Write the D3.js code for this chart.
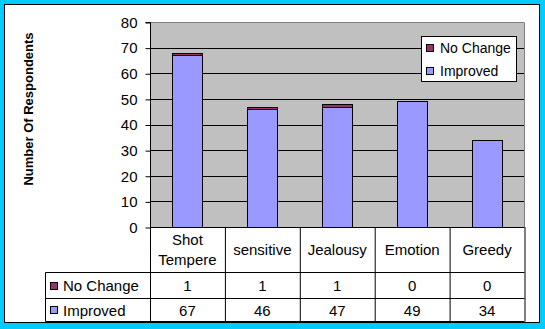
<!DOCTYPE html>
<html>
<head>
<meta charset="utf-8">
<script src="https://cdn.jsdelivr.net/npm/d3@7"></script>
<style>
  html, body { margin: 0; padding: 0; background: #00CCFF; }
  svg { display: block; font-family: Arial, "Liberation Sans", sans-serif; }
</style>
</head>
<body>
<svg id="chart" width="545" height="329"></svg>
<script>
// Survey results: respondents per trait
const categories = [["Shot", "Tempere"], ["sensitive"], ["Jealousy"], ["Emotion"], ["Greedy"]];
const seriesNames = ["No Change", "Improved"];
const noChange = [1, 1, 1, 0, 0];
const improved = [67, 46, 47, 49, 34];
const yTicks = [0, 10, 20, 30, 40, 50, 60, 70, 80];

const colors = { "Improved": "#9999FF", "No Change": "#993366" };

const svg = d3.select("#chart");

// frame
svg.append("rect").attr("x", 0).attr("y", 0).attr("width", 545).attr("height", 329).attr("fill", "#00CCFF");
svg.append("rect").attr("x", 4.5).attr("y", 4.5).attr("width", 535).attr("height", 318)
  .attr("fill", "#fff").attr("stroke", "#000");

const plot = { left: 150, right: 524.5, top: 22, bottom: 227 };

const x = d3.scaleBand().domain(d3.range(categories.length)).range([plot.left, plot.right]).paddingInner(0).paddingOuter(0);
const y = d3.scaleLinear().domain([0, 80]).range([plot.bottom, plot.top]);
const barW = 30;

// plot background
svg.append("rect").attr("x", plot.left).attr("y", plot.top)
  .attr("width", plot.right - plot.left).attr("height", plot.bottom - plot.top)
  .attr("fill", "#C0C0C0");

// gridlines
svg.append("g").selectAll("line").data(yTicks.filter(v => v > 0 && v < 80)).join("line")
  .attr("x1", plot.left).attr("x2", plot.right)
  .attr("y1", d => Math.round(y(d)) + 0.5).attr("y2", d => Math.round(y(d)) + 0.5)
  .attr("stroke", "#000");

// plot border (top / right)
svg.append("path")
  .attr("d", `M${plot.left},${plot.top + 0.5}H${plot.right}V${plot.bottom}`)
  .attr("fill", "none").attr("stroke", "#808080");

// stacked bars
const stackData = categories.map((c, i) => ({ i, "Improved": improved[i], "No Change": noChange[i] }));
const stack = d3.stack().keys(["Improved", "No Change"])(stackData);
svg.append("g").selectAll("g").data(stack).join("g")
  .attr("fill", d => colors[d.key])
  .selectAll("rect").data(d => d).join("rect")
  .attr("x", d => Math.round(x(d.data.i) + (x.bandwidth() - barW) / 2) + 0.5)
  .attr("width", barW)
  .attr("y", d => Math.round(y(d[1])) + 0.5)
  .attr("height", d => Math.round(y(d[0])) - Math.round(y(d[1])))
  .attr("stroke", "#000");

// y axis
const yAxis = d3.axisLeft(y).tickValues(yTicks).tickSize(5).tickPadding(8).tickFormat(d3.format("d"));
const ya = svg.append("g").attr("transform", `translate(${plot.left + 0.5},0.5)`).call(yAxis);
ya.select(".domain").attr("stroke", "#000").attr("d", `M-5,${plot.top}H0V${plot.bottom}`);
ya.selectAll(".tick line").attr("stroke", "#000");
ya.selectAll(".tick text").attr("font-size", 15).attr("font-family", "Arial, 'Liberation Sans', sans-serif").attr("fill", "#000");

// axis title
svg.append("text")
  .attr("transform", "translate(33,109) rotate(-90)")
  .attr("text-anchor", "middle")
  .attr("font-weight", "bold").attr("font-size", 13)
  .text("Number Of Respondents");

// data table
const rowY = [plot.bottom, 272.5, 298.5, 321.5];
const tableLeft = 45.5;
const tbl = svg.append("g").attr("stroke", "#000").attr("fill", "none");
tbl.append("line").attr("x1", plot.left).attr("x2", plot.right).attr("y1", rowY[0] + 0.5).attr("y2", rowY[0] + 0.5);
[1, 2, 3].forEach(r => {
  tbl.append("line").attr("x1", tableLeft).attr("x2", plot.right).attr("y1", rowY[r]).attr("y2", rowY[r]);
});
tbl.append("line").attr("x1", tableLeft).attr("x2", tableLeft).attr("y1", rowY[1]).attr("y2", rowY[3]);
d3.range(categories.length + 1).forEach(k => {
  const xx = (k < categories.length ? x(k) : plot.right) + 0.5;
  tbl.append("line").attr("x1", xx).attr("x2", xx).attr("y1", rowY[0]).attr("y2", rowY[3]);
});

// header labels
const head = svg.append("g").attr("font-size", 15).attr("text-anchor", "middle");
categories.forEach((lines, i) => {
  const cx = x(i) + x.bandwidth() / 2;
  const mid = (rowY[0] + rowY[1]) / 2;
  lines.forEach((t, j) => {
    head.append("text").attr("x", cx)
      .attr("y", mid + (j - (lines.length - 1) / 2) * 20 + 5.5)
      .text(t);
  });
});

// value rows
const rows = [{ name: "No Change", values: noChange }, { name: "Improved", values: improved }];
rows.forEach((row, r) => {
  const mid = (rowY[r + 1] + rowY[r + 2]) / 2;
  row.values.forEach((v, i) => {
    svg.append("text").attr("x", x(i) + x.bandwidth() / 2).attr("y", mid + 5.5)
      .attr("text-anchor", "middle").attr("font-size", 15).text(v);
  });
  svg.append("rect").attr("x", 50.5).attr("y", Math.round(mid) - 3.5).attr("width", 7).attr("height", 7)
    .attr("fill", colors[row.name]).attr("stroke", "#000");
  svg.append("text").attr("x", 63).attr("y", mid + 5.5).attr("font-size", 15).text(row.name);
});

// legend
const lg = svg.append("g");
lg.append("rect").attr("x", 421.5).attr("y", 36.5).attr("width", 95).attr("height", 45)
  .attr("fill", "#fff").attr("stroke", "#000");
seriesNames.forEach((s, k) => {
  const cy = 48 + k * 23;
  lg.append("rect").attr("x", 426.5).attr("y", cy - 3.5).attr("width", 7).attr("height", 7)
    .attr("fill", colors[s]).attr("stroke", "#000");
  lg.append("text").attr("x", 440).attr("y", cy + 5).attr("font-size", 14).text(s);
});
</script>
</body>
</html>
